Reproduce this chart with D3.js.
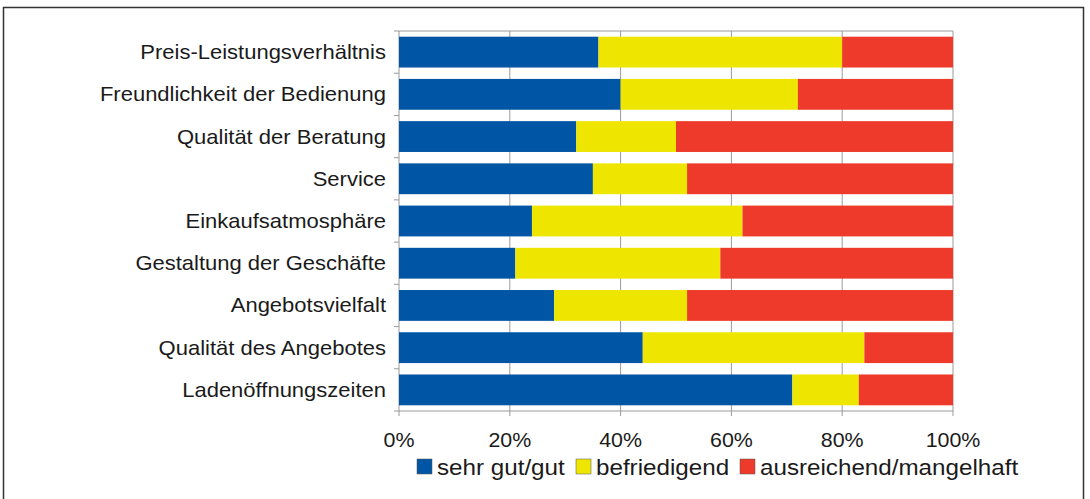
<!DOCTYPE html>
<html>
<head>
<meta charset="utf-8">
<script src="https://cdn.jsdelivr.net/npm/d3@7"></script>
<style>
  body { margin: 0; background: #fff; }
  text { font-family: "Liberation Sans", Arial, sans-serif; fill: #1a1a1a; }
</style>
</head>
<body>
<svg width="1090" height="499"></svg>
<script>
// categories top to bottom
var categories = ["Preis-Leistungsverhältnis", "Freundlichkeit der Bedienung", "Qualität der Beratung",
  "Service", "Einkaufsatmosphäre", "Gestaltung der Geschäfte", "Angebotsvielfalt",
  "Qualität des Angebotes", "Ladenöffnungszeiten"];
var seriesNames = ["sehr gut/gut", "befriedigend", "ausreichend/mangelhaft"];
var gut = [36, 40, 32, 35, 24, 21, 28, 44, 71];
var befriedigend = [44, 32, 18, 17, 38, 37, 24, 40, 12];
var ausreichend = [20, 28, 50, 48, 38, 42, 48, 16, 17];
var xTicks = [0, 20, 40, 60, 80, 100];
var colors = ["#0055a4", "#eee600", "#ee3a2a"];

var svg = d3.select("svg");

// frame
svg.append("rect")
   .attr("x", 3.5).attr("y", 7.5)
   .attr("width", 1080).attr("height", 520)
   .attr("fill", "none").attr("stroke", "#333").attr("stroke-width", 1.5);

var x = d3.scaleLinear().domain([0, 100]).range([399, 953]);
var y = d3.scaleBand().domain(categories).range([31, 411]).paddingInner(0.27).paddingOuter(0.135);

var rows = categories.map(function(c, i) {
  return { cat: c, v: [gut[i], befriedigend[i], ausreichend[i]] };
});

// grid
svg.append("g").selectAll("line")
   .data(xTicks).enter().append("line")
   .attr("x1", function(d) { return x(d); }).attr("x2", function(d) { return x(d); })
   .attr("y1", 31).attr("y2", 416)
   .attr("stroke", "#9a9a9a").attr("stroke-width", 1);
svg.append("line").attr("x1", x(0)).attr("x2", x(100)).attr("y1", 31).attr("y2", 31)
   .attr("stroke", "#9a9a9a");
svg.append("line").attr("x1", x(0)).attr("x2", x(100)).attr("y1", 411).attr("y2", 411)
   .attr("stroke", "#9a9a9a");

// y tick marks at band boundaries
svg.append("g").selectAll("line")
   .data(d3.range(categories.length + 1)).enter().append("line")
   .attr("x1", x(0) - 5).attr("x2", x(0))
   .attr("y1", function(i) { return 31 + i * y.step(); })
   .attr("y2", function(i) { return 31 + i * y.step(); })
   .attr("stroke", "#9a9a9a");

// bars
var stack = d3.stack().keys([0, 1, 2]).value(function(d, k) { return d.v[k]; });
var layers = stack(rows);
svg.append("g").selectAll("g")
   .data(layers).enter().append("g")
   .attr("fill", function(d, i) { return colors[i]; })
   .selectAll("rect")
   .data(function(d) { return d; }).enter().append("rect")
   .attr("x", function(d) { return x(d[0]); })
   .attr("width", function(d) { return x(d[1]) - x(d[0]); })
   .attr("y", function(d) { return y(d.data.cat); })
   .attr("height", y.bandwidth());

// category labels
svg.append("g").selectAll("text")
   .data(categories).enter().append("text")
   .attr("transform", function(d) {
     return "translate(386," + (y(d) + y.bandwidth() / 2 + 7) + ") scale(1.1,1)";
   })
   .attr("text-anchor", "end")
   .style("font-size", "20px")
   .text(function(d) { return d; });

// x tick labels
svg.append("g").selectAll("text")
   .data(xTicks).enter().append("text")
   .attr("transform", function(d) { return "translate(" + x(d) + ",447) scale(1.07,1)"; })
   .attr("text-anchor", "middle")
   .style("font-size", "20px")
   .text(function(d) { return d + "%"; });

// legend
var legX = [417, 576, 740];
var leg = svg.append("g").selectAll("g")
   .data(seriesNames).enter().append("g")
   .attr("transform", function(d, i) { return "translate(" + legX[i] + ",459)"; });
leg.append("rect")
   .attr("width", 15).attr("height", 15)
   .attr("fill", function(d, i) { return colors[i]; })
   .attr("stroke", "#555").attr("stroke-width", 0.5);
leg.append("text")
   .attr("transform", "translate(20,16) scale(1.1,1)")
   .style("font-size", "22px")
   .text(function(d) { return d; });
</script>
</body>
</html>
